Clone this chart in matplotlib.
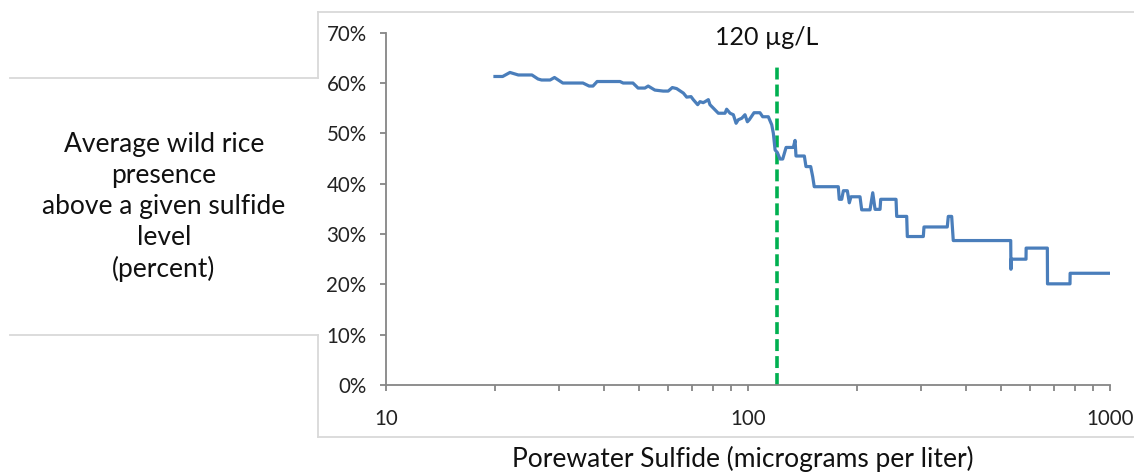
import numpy as np
import matplotlib
matplotlib.use("Agg")
import matplotlib.pyplot as plt
from matplotlib.lines import Line2D
from matplotlib.ticker import FuncFormatter, LogLocator

# porewater sulfide (ug/L) and average presence above that level (%)
sulfide = [20, 21, 22, 23.2, 25.3, 26.3, 26.9, 28.4, 29.2, 30.8, 35.0, 36.4, 37.3,
           38.3, 44.3, 45.2, 48.1, 49.7, 51.9, 53.0, 55.3, 58.3, 60.2, 61.8, 63.5,
           66.3, 67.7, 69.6, 70.6, 72.6, 73.7, 75.2, 76.1, 77.7, 78.5, 81.0, 82.8,
           86.4, 87.3, 89.2, 91.1, 92.7, 94.0, 96.1, 98.1, 99.6, 100.8, 103.9, 107.9,
           109.8, 113.8, 116.3, 117.5, 118.8, 120.5, 122.6, 124.7, 127.4, 133.4,
           134.9, 135.7, 143.1, 144.6, 149.0, 150.9, 152.4, 177.6, 178.7, 181.5,
           183.4, 188.1, 190.5, 192.5, 203.9, 206.1, 217.3, 221.1, 224.4, 231.6,
           232.6, 256.4, 257.5, 274.4, 275.5, 305.0, 306.3, 355.2, 357.5, 365.3,
           369.0, 531.8, 532.5, 533.5, 586.1, 586.6, 671.3, 672.0, 775.3, 776.0, 1000]
presence = [61.3, 61.3, 62.1, 61.6, 61.6, 60.8, 60.6, 60.6, 61.1, 60.0, 60.0, 59.4, 59.4,
            60.3, 60.3, 60.0, 60.0, 59.0, 59.0, 59.4, 58.6, 58.4, 58.4, 59.1, 58.9,
            58.0, 57.2, 57.3, 56.7, 55.7, 56.3, 56.1, 56.3, 56.7, 55.7, 54.7, 54.0,
            54.0, 54.8, 54.0, 53.7, 52.0, 52.7, 53.0, 53.7, 52.3, 52.7, 54.1, 54.1,
            53.3, 53.3, 51.7, 50.0, 46.7, 46.2, 44.9, 44.9, 47.2, 47.2,
            48.6, 45.5, 45.5, 43.4, 43.4, 41.4, 39.4, 39.4, 36.9, 36.9,
            38.6, 38.6, 36.2, 37.4, 37.4, 34.8, 34.8, 38.2, 34.9, 34.9,
            36.9, 36.9, 33.5, 33.5, 29.5, 29.5, 31.4, 31.4, 33.5, 33.5,
            28.7, 28.7, 23.0, 25.0, 25.0, 27.2, 27.2, 20.1, 20.1, 22.2, 22.2]
threshold = 120
y_ticks = [0, 10, 20, 30, 40, 50, 60, 70]

plt.rcParams['font.family'] = ['Lato', 'DejaVu Sans']

W, H = 1134, 473
fig = plt.figure(figsize=(W / 100, H / 100), dpi=100)

def px(x, y):
    # pixel coords (top-left origin) -> figure fraction
    return x / W, 1 - y / H

# chart frame and left text box borders
grey = '#d9d9d9'
for (x0, y0, x1, y1) in [(318, 12, 1134, 12), (318, 12, 318, 78), (318, 335, 318, 437),
                         (318, 437, 1134, 437), (10, 78, 318, 78), (10, 335, 318, 335)]:
    a, b = px(x0, y0)
    c, d = px(x1, y1)
    fig.add_artist(Line2D([a, c], [b, d], color=grey, lw=1.3, transform=fig.transFigure))

left, right = 386 / W, 1110 / W
bottom, top = 1 - 385 / H, 1 - 32.7 / H
ax = fig.add_axes([left, bottom, right - left, top - bottom])

ax.plot(sulfide, np.array(presence) / 100, color='#4a7ebb', lw=2.3, zorder=3)
ax.plot([threshold, threshold], [0, 0.632], color='#00b050', lw=2.6,
        linestyle=(0, (3.3, 1.4)), zorder=2)
ax.annotate('120 µg/L', xy=(threshold, 0.69), xytext=(-7, 0), textcoords='offset points',
            ha='center', va='center', fontsize=18, color='#111111')

ax.set_xscale('log')
ax.set_xlim(10, 1000)
ax.set_ylim(0, 0.7)
ax.set_yticks([v / 100 for v in y_ticks])
ax.yaxis.set_major_formatter(FuncFormatter(lambda v, p: f'{v * 100:.0f}%'))
ax.xaxis.set_major_locator(LogLocator(base=10, numticks=5))
ax.xaxis.set_minor_locator(LogLocator(base=10, subs=np.arange(2, 10), numticks=20))
ax.xaxis.set_major_formatter(FuncFormatter(lambda v, p: f'{v:.0f}'))
ax.xaxis.set_minor_formatter(FuncFormatter(lambda v, p: ''))

for s in ['top', 'right']:
    ax.spines[s].set_visible(False)
for s in ['left', 'bottom']:
    ax.spines[s].set_color('#868686')
    ax.spines[s].set_linewidth(1.3)

ax.tick_params(axis='y', which='major', direction='out', length=4, width=1.3,
               color='#868686', labelsize=14.8, pad=10, labelcolor='#222222')
ax.tick_params(axis='x', which='both', direction='out', length=4, width=1.3,
               color='#868686', labelsize=14.8, pad=13, labelcolor='#222222')

fig.text(743 / W, 1 - 459 / H, 'Porewater Sulfide (micrograms per liter)',
         ha='center', va='center', fontsize=19, color='#111111')
fig.text(164 / W, 1 - 207 / H,
         'Average wild rice\npresence\nabove a given sulfide\nlevel\n(percent)',
         ha='center', va='center', fontsize=19, color='#111111', linespacing=1.3)

fig.savefig('out.png', dpi=100)
